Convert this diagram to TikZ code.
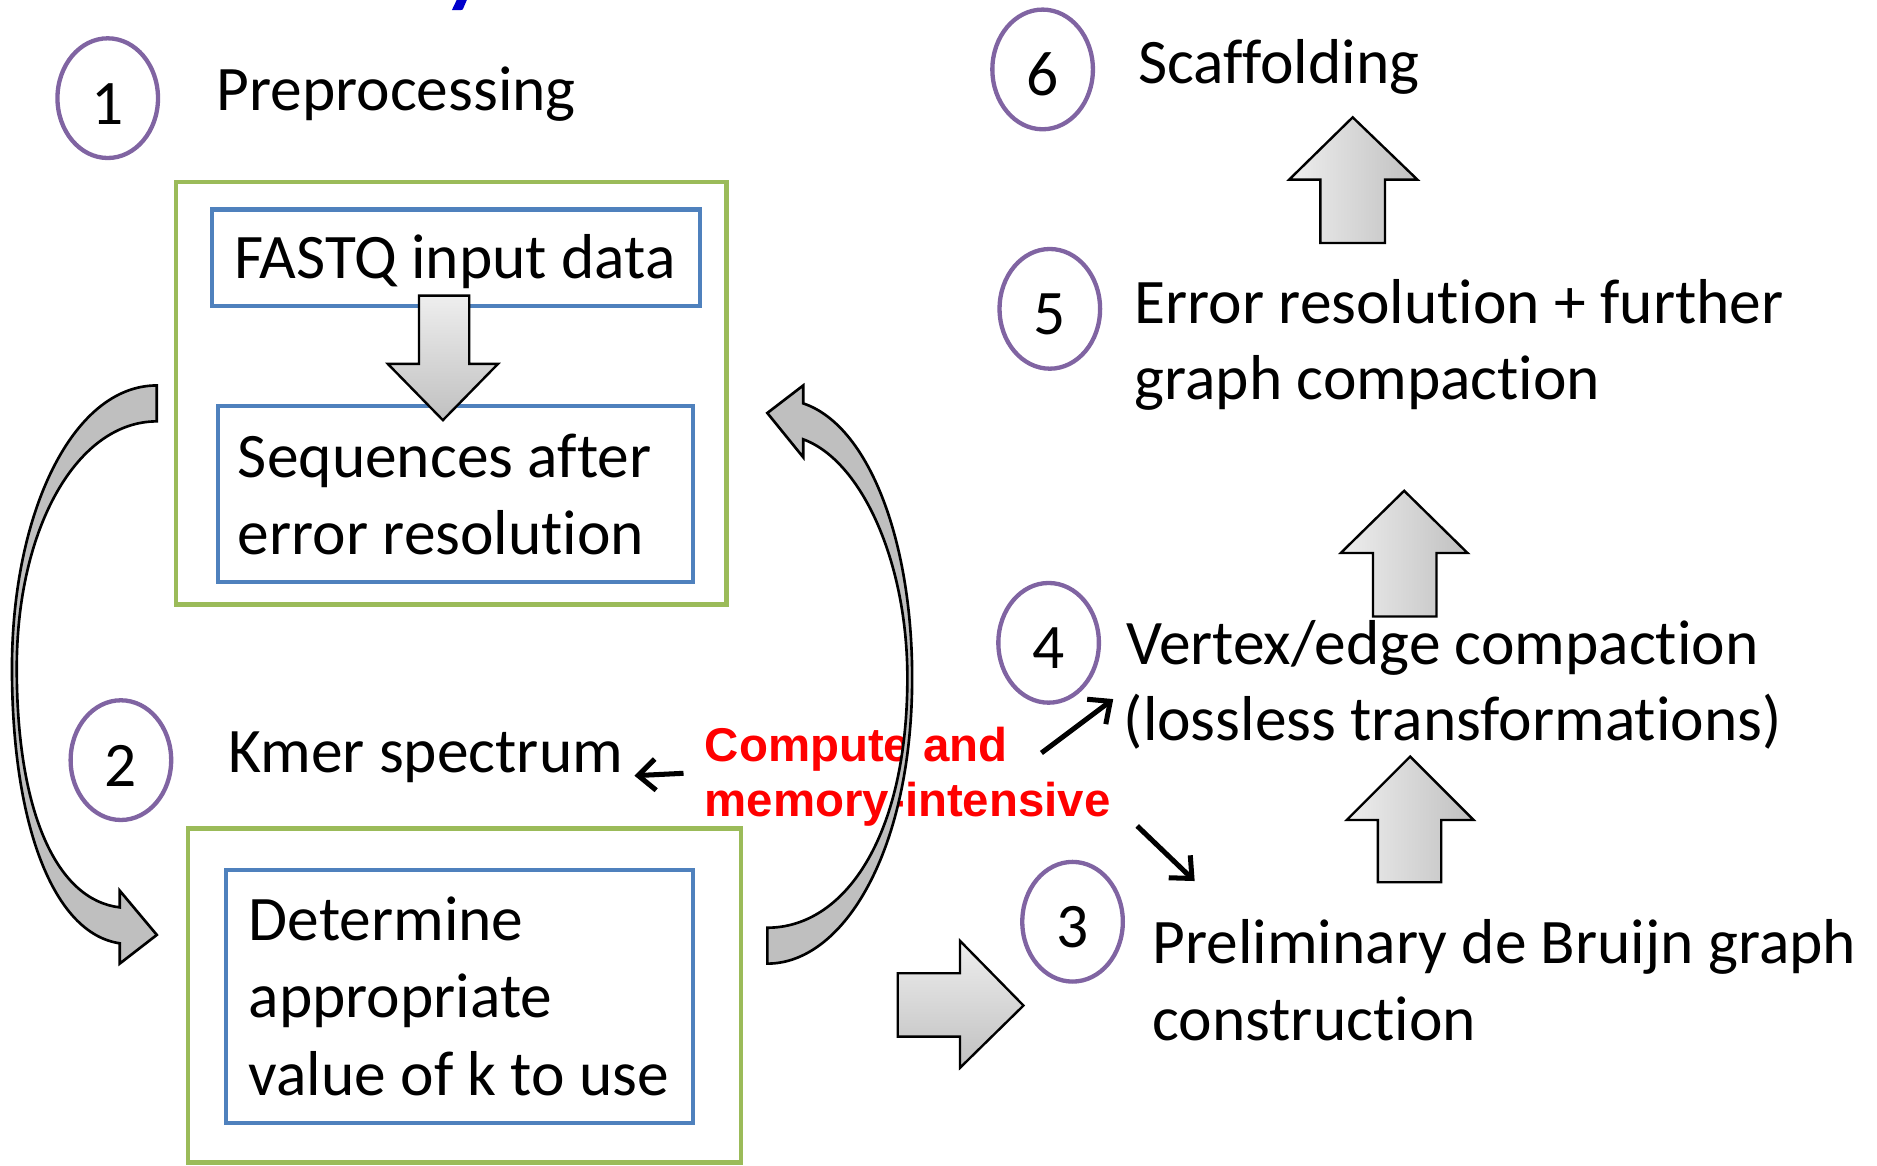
\documentclass[tikz,border=0pt]{standalone}
\usepackage{fontspec}
\setmainfont{Carlito}[Ligatures={NoCommon,NoContextual,NoRare},Contextuals=NoAlternate]
\newfontfamily\hotfont{Liberation Sans}[Ligatures=NoCommon]
\usetikzlibrary{shapes.geometric,arrows.meta}

\definecolor{stepviolet}{HTML}{8064A2}
\definecolor{groupgreen}{HTML}{9BBB59}
\definecolor{boxblue}{HTML}{4F81BD}
\definecolor{titleblue}{HTML}{0000CC}
\definecolor{ribbongrey}{HTML}{BFBFBF}
\definecolor{shadelight}{HTML}{EEEEEE}
\definecolor{shadedark}{HTML}{C0C0C0}

\tikzset{
  stepnum/.style={ellipse, draw=stepviolet, line width=0.9pt,
    minimum width=21pt, minimum height=25pt, inner sep=0pt,
    text height=10.9pt, text depth=0pt, font=\fontsize{13.25}{16}\selectfont},
  steptext/.style={anchor=base west, inner sep=0pt, font=\fontsize{13.25}{16}\selectfont},
  hottext/.style={anchor=base west, inner sep=0pt, text=red,
    font=\hotfont\bfseries\fontsize{9.9}{12}\selectfont},
  groupbox/.style={draw=groupgreen, line width=1pt, inner sep=0pt},
  itembox/.style={draw=boxblue, line width=0.85pt, inner sep=0pt},
  blockup/.style={draw=black, line width=0.5pt, left color=shadelight, right color=shadedark},
  blockdown/.style={draw=black, line width=0.5pt, top color=shadelight, bottom color=shadedark},
  ribbon/.style={draw=black, line width=0.55pt, fill=ribbongrey},
  pointer/.style={line width=1.05pt, -{Straight Barb[length=3.6pt,width=6.5pt]}},
}

\begin{document}
\begin{tikzpicture}[x=0.25pt,y=-0.25pt]
\useasboundingbox (0,0) rectangle (1568,974);

% descender of the slide title above
\fill[titleblue] (381.5,0) -- (390,0) -- (387,7) .. controls (386.3,8.4) .. (384.5,8.4) -- (377.5,8.4) -- cycle;

% step markers
\node[stepnum] (c1) at (90,82) {1};
\node[stepnum] (c2) at (101,635) {2};
\node[stepnum] (c3) at (896,770) {3};
\node[stepnum] (c4) at (876,537) {4};
\node[stepnum] (c5) at (877,258) {5};
\node[stepnum] (c6) at (871,58) {6};

% step titles
\node[steptext] (t1) at (180,92) {Preprocessing};
\node[steptext] (t2) at (190,645) {Kmer spectrum};
\node[steptext] (t3a) at (962,805) {Preliminary de Bruijn graph};
\node[steptext] (t3b) at (962,869) {construction};
\node[steptext] (t4a) at (940,555) {Vertex/edge compaction};
\node[steptext] (t4b) at (938,619) {(lossless transformations)};
\node[steptext] (t5a) at (947,270) {Error resolution + further};
\node[steptext] (t5b) at (947,334) {graph compaction};
\node[steptext] (t6) at (950,70) {Scaffolding};

% preprocessing group
\node[groupbox, minimum width=115pt, minimum height=88.25pt] (g1) at (377,328.5) {};
\node[itembox, minimum width=102pt, minimum height=20.25pt] (fastq) at (381,215.5) {};
\node[itembox, minimum width=99.25pt, minimum height=36.75pt] (seqs) at (380.5,412.5) {};
\node[steptext] (fastqtxt) at (195,233) {FASTQ input data};
\node[steptext] (seqtxta) at (198,399) {Sequences after};
\node[steptext] (seqtxtb) at (198,463) {error resolution};

% k selection group
\node[groupbox, minimum width=115.5pt, minimum height=69.75pt] (g2) at (388,831.5) {};
\node[itembox, minimum width=97.5pt, minimum height=52.75pt] (kbox) at (384,832.5) {};
\node[steptext] (ktxta) at (207,786) {Determine};
\node[steptext] (ktxtb) at (207,850) {appropriate};
\node[steptext] (ktxtc) at (207,915) {value of k to use};

% cost annotation
\node[hottext] (hot1) at (588,636) {Compute and};
\node[hottext] (hot2) at (588,682) {memory-intensive};

\coordinate (hotL) at (571,646);
\coordinate (kmerR) at (530,648);
\coordinate (hotUR) at (870,629);
\coordinate (lossL) at (930,584);
\coordinate (hotDR) at (950,690);
\coordinate (prelimL) at (998,736);
\draw[pointer] (hotL) -- (kmerR);
\draw[pointer] (hotUR) -- (lossL);
\draw[pointer] (hotDR) -- (prelimL);

% block arrows
\draw[blockdown] (350,247) -- (392,247) -- (392,304) -- (416,304) -- (370,351)
  -- (324,304) -- (350,304) -- cycle;
\draw[blockdown] (750,813) -- (802,813) -- (802,786) -- (855,840) -- (802,892)
  -- (802,866) -- (750,866) -- cycle;
\draw[blockup] (1103,203) -- (1103,150) -- (1077,150) -- (1130,98) -- (1184,150)
  -- (1157,150) -- (1157,203) -- cycle;
\draw[blockup] (1147,515) -- (1147,462) -- (1120,462) -- (1173,410) -- (1226,462)
  -- (1200,462) -- (1200,515) -- cycle;
\draw[blockup] (1151,737) -- (1151,685) -- (1125,685) -- (1178,632) -- (1231,685)
  -- (1204,685) -- (1204,737) -- cycle;

% loop arrows between the two groups
\draw[ribbon] (131,322) .. controls (60,322) and (10,430) .. (10,558)
  .. controls (10,690) and (45,780) .. (100,788) -- (100,805) -- (131,781)
  -- (100,744) -- (100,758) .. controls (48,752) and (14,680) .. (14,558)
  .. controls (14,440) and (65,352) .. (131,352) -- cycle;
\draw[ribbon] (641,775) -- (641,805) .. controls (705,805) and (762,710) .. (762,566)
  .. controls (762,450) and (725,355) .. (671,337) -- (671,322) -- (641,345)
  -- (671,382) -- (671,367) .. controls (720,385) and (758,470) .. (758,566)
  .. controls (758,700) and (705,775) .. (641,775) -- cycle;
\end{tikzpicture}
\end{document}
